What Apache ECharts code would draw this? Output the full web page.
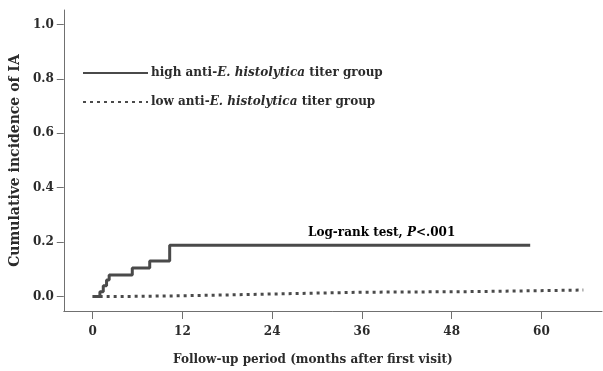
<!DOCTYPE html>
<html>
<head>
<meta charset="utf-8">
<script src="https://cdn.jsdelivr.net/npm/echarts@6/dist/echarts.min.js"></script>
<style>
html,body{margin:0;padding:0;background:#fff;}
#chart{width:603px;height:371px;}
</style>
</head>
<body>
<div id="chart"></div>
<script>
// months after first visit, cumulative incidence
const highMonths = [0, 0.97, 1.42, 1.86, 2.21, 5.3, 7.63, 10.3, 58.5];
const highValues = [0, 0.018, 0.040, 0.061, 0.079, 0.105, 0.131, 0.189, 0.189];
const lowMonths = [0, 3, 12, 18, 25, 36, 50, 65.6];
const lowValues = [0, 0.003, 0.006, 0.010, 0.016, 0.018, 0.024, 0.024];
const xTicks = [0, 12, 24, 36, 48, 60];
const yTicks = [0, 0.2, 0.4, 0.6, 0.8, 1.0];
const seriesNames = ['high anti-E. histolytica titer group', 'low anti-E. histolytica titer group'];

const FONT = 'DejaVu Serif';
const TXT = '#2b2b2b';
const LINE = '#4a4a4a';
const AX = '#707070';

const chart = echarts.init(document.getElementById('chart'), null, {renderer: 'canvas'});
const zip = (a, b) => a.map((v, i) => [v, b[i]]);

const rich = {
  b: {fontFamily: FONT, fontWeight: 'bold', fontSize: 12, color: TXT, lineHeight: 14},
  i: {fontFamily: FONT, fontWeight: 'bold', fontStyle: 'italic', fontSize: 12, color: TXT, lineHeight: 14}
};

chart.setOption({
  animation: false,
  backgroundColor: '#fff',
  grid: {left: 62, right: 1, top: 10, bottom: 58, containLabel: false},
  xAxis: {
    type: 'value', min: -3.86, max: 68.1,
    splitLine: {show: false},
    axisLine: {onZero: false, lineStyle: {color: AX, width: 1}},
    axisTick: {customValues: xTicks, length: 8, lineStyle: {color: AX}},
    axisLabel: {customValues: xTicks, margin: 15, fontFamily: FONT, fontWeight: 'bold', fontSize: 12, color: TXT},
    name: 'Follow-up period (months after first visit)',
    nameLocation: 'middle', nameGap: 43,
    nameTextStyle: {fontFamily: FONT, fontWeight: 'bold', fontSize: 12, color: TXT, padding: [0, 40, 0, 0]}
  },
  yAxis: {
    type: 'value', min: -0.053, max: 1.053,
    splitLine: {show: false},
    axisLine: {onZero: false, lineStyle: {color: AX, width: 1}},
    axisTick: {customValues: yTicks, length: 7, lineStyle: {color: AX}},
    axisLabel: {customValues: yTicks, margin: 10, fontFamily: FONT, fontWeight: 'bold', fontSize: 12, color: TXT,
      formatter: v => v.toFixed(1)},
    name: 'Cumulative incidence of IA',
    nameLocation: 'middle', nameGap: 36, nameRotate: 90,
    nameTextStyle: {fontFamily: FONT, fontWeight: 'bold', fontSize: 14, color: TXT}
  },
  legend: {
    orient: 'vertical', left: 82, top: 66, padding: 0,
    itemWidth: 65, itemHeight: 14, itemGap: 15,
    itemStyle: {opacity: 0},
    data: seriesNames,
    formatter: n => {
      const m = n.match(/^(.*anti-)(E\. histolytica)(.*)$/);
      return '{b|' + m[1] + '}{i|' + m[2] + '}{b|' + m[3] + '}';
    },
    textStyle: {lineHeight: 14, padding: [0, 0, 0, -2], rich: rich}
  },
  graphic: [{
    type: 'text', left: 308, top: 227,
    style: {text: '{b|Log-rank test, }{i|P}{b|<.001}', rich: rich}
  }],
  series: [{
    name: seriesNames[0], type: 'line', step: 'end', symbol: 'none',
    data: zip(highMonths, highValues),
    lineStyle: {color: LINE, width: 3}
  }, {
    name: seriesNames[1], type: 'line', step: 'end', symbol: 'none',
    data: zip(lowMonths, lowValues),
    lineStyle: {color: LINE, width: 3, type: [3, 4]}
  }]
});
</script>
</body>
</html>
